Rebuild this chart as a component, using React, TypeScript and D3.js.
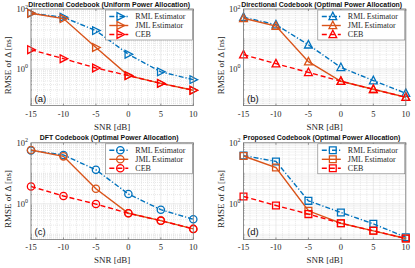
import React, { useRef, useEffect } from 'react';
import * as d3 from 'd3';

const snr = [-15, -10, -5, 0, 5, 10];

const rmlA = [72, 53, 19, 3.1, 0.8, 0.44];
const jmlA = [72, 48, 5.2, 0.6, 0.33, 0.195];
const cebA = [4.4, 2.2, 1.08, 0.6, 0.33, 0.195];

const rmlB = [53, 30, 6.4, 1.13, 0.41, 0.155];
const jmlB = [49, 27, 1.75, 0.39, 0.21, 0.114];
const cebB = [3.0, 1.5, 0.77, 0.39, 0.21, 0.114];

const rmlC = [56, 40, 13, 2.1, 0.64, 0.31];
const jmlC = [58, 36, 3.1, 0.49, 0.28, 0.15];
const cebC = [3.7, 1.8, 0.98, 0.49, 0.28, 0.15];

const rmlD = [38, 24.5, 1.25, 0.52, 0.22, 0.08];
const jmlD = [37, 15.5, 0.59, 0.23, 0.13, 0.073];
const cebD = [1.74, 0.88, 0.46, 0.23, 0.13, 0.073];

const titles = [
  'Directional Codebook (Uniform Power Allocation)',
  'Directional Codebook (Optimal Power Allocation)',
  'DFT Codebook (Optimal Power Allocation)',
  'Proposed Codebook (Optimal Power Allocation)',
];
const tags = ['(a)', '(b)', '(c)', '(d)'];
const markerKinds = ['triRight', 'triUp', 'circle', 'square'];
const legendNames = ['RML Estimator', 'JML Estimator', 'CEB'];
const xTicks = [-15, -10, -5, 0, 5, 10];
const yTickExps = [0, 2];

const colors = ['#0072BD', '#D95319', '#FF0000'];
const dashes = ['5,2,1.2,2', null, '5,3'];

const serif = '"Liberation Serif", "DejaVu Serif", serif';
const sans = '"Liberation Sans", Arial, sans-serif';

function markerPath(kind: string) {
  if (kind === 'triRight') return 'M-3.3,-3.9L4.3,0L-3.3,3.9Z';
  if (kind === 'triUp') return 'M-3.9,3.2L0,-4.3L3.9,3.2Z';
  if (kind === 'square') return 'M-3.4,-3.4H3.4V3.4H-3.4Z';
  return d3.symbol(d3.symbolCircle, 42)() as string;
}

function drawPanel(g: any, p: any) {
  const { w, h, yMin, title, tag, kind, series } = p;
  const x = d3.scaleLinear().domain([-15, 10]).range([0, w]);
  const y = d3.scaleLog().domain([yMin, 100]).range([h, 0]);

  g.append('rect').attr('width', w).attr('height', h).attr('fill', '#fff');

  // minor grid
  const xMinor = d3.range(-15, 11, 1).filter(v => v % 5 !== 0);
  g.selectAll('.xm').data(xMinor).join('line')
    .attr('x1', d => x(d)).attr('x2', d => x(d)).attr('y1', 0).attr('y2', h)
    .attr('stroke', '#cfcfcf').attr('stroke-width', 0.5).attr('stroke-dasharray', '1,1');
  const yMinor: number[] = [];
  for (let k = -2; k <= 1; k++) {
    for (let m = 1; m <= 9; m++) {
      const v = m * Math.pow(10, k);
      if (v > yMin && v < 100 && v !== 1) yMinor.push(v);
    }
  }
  g.selectAll('.ym').data(yMinor).join('line')
    .attr('x1', 0).attr('x2', w).attr('y1', d => y(d)).attr('y2', d => y(d))
    .attr('stroke', '#cfcfcf').attr('stroke-width', 0.5).attr('stroke-dasharray', '1,1');

  // major grid
  g.selectAll('.xg').data(xTicks).join('line')
    .attr('x1', d => x(d)).attr('x2', d => x(d)).attr('y1', 0).attr('y2', h)
    .attr('stroke', '#dedede').attr('stroke-width', 0.6);
  g.selectAll('.yg').data(yTickExps).join('line')
    .attr('x1', 0).attr('x2', w).attr('y1', d => y(Math.pow(10, d))).attr('y2', d => y(Math.pow(10, d)))
    .attr('stroke', '#dedede').attr('stroke-width', 0.6);

  // ticks
  xTicks.forEach(t => {
    g.append('line').attr('x1', x(t)).attr('x2', x(t)).attr('y1', h).attr('y2', h - 2)
      .attr('stroke', '#555').attr('stroke-width', 0.6);
    g.append('line').attr('x1', x(t)).attr('x2', x(t)).attr('y1', 0).attr('y2', 2)
      .attr('stroke', '#555').attr('stroke-width', 0.6);
  });
  yMinor.forEach(v => {
    g.append('line').attr('x1', 0).attr('x2', 1).attr('y1', y(v)).attr('y2', y(v))
      .attr('stroke', '#555').attr('stroke-width', 0.5);
  });

  // series
  const line = d3.line<number>().x((d, i) => x(snr[i])).y(d => y(d));
  series.forEach((vals: number[], s: number) => {
    const path = g.append('path').datum(vals)
      .attr('fill', 'none').attr('stroke', colors[s]).attr('stroke-width', 1.4)
      .attr('d', line);
    if (dashes[s]) path.attr('stroke-dasharray', dashes[s]);
    g.selectAll('.mk' + s).data(vals).join('path')
      .attr('transform', (d, i) => `translate(${x(snr[i])},${y(d)})`)
      .attr('d', markerPath(kind))
      .attr('fill', 'none').attr('stroke', colors[s]).attr('stroke-width', 1.3);
  });

  // box
  g.append('rect').attr('width', w).attr('height', h).attr('fill', 'none')
    .attr('stroke', '#777').attr('stroke-width', 0.8);

  // tick labels
  g.selectAll('.xl').data(xTicks).join('text')
    .attr('x', d => x(d)).attr('y', h + 11).attr('text-anchor', 'middle')
    .attr('font-family', serif).attr('font-size', 8.5).attr('fill', '#262626')
    .text(d => String(d));
  yTickExps.forEach(e => {
    const t = g.append('text').attr('x', -3).attr('y', y(Math.pow(10, e)) + 3)
      .attr('text-anchor', 'end').attr('font-family', serif).attr('font-size', 8.5)
      .attr('fill', '#262626');
    t.append('tspan').text('10');
    t.append('tspan').attr('dy', -3.5).attr('font-size', 6).text(String(e));
  });

  g.append('text').attr('x', w / 2).attr('y', h + 24).attr('text-anchor', 'middle')
    .attr('font-family', serif).attr('font-size', 9).attr('fill', '#262626').text('SNR [dB]');
  g.append('text').attr('transform', `translate(${-20},${h / 2 + 8}) rotate(-90)`)
    .attr('text-anchor', 'middle').attr('font-family', serif).attr('font-size', 9)
    .attr('fill', '#262626').text('RMSE of Δ [ns]');

  g.append('text').attr('x', w / 2 - 3).attr('y', -2.5).attr('text-anchor', 'middle')
    .attr('font-family', sans).attr('font-weight', 'bold').attr('font-size', 6.9)
    .attr('fill', '#111').text(title);

  g.append('text').attr('x', 3.5).attr('y', h - 4).attr('font-family', sans)
    .attr('font-size', 9.5).attr('fill', '#111').text(tag);

  // legend
  const lw = 87;
  const lg = g.append('g').attr('transform', `translate(${w - lw - 1},1)`);
  lg.append('rect').attr('width', lw).attr('height', 30).attr('fill', '#fff')
    .attr('stroke', '#777').attr('stroke-width', 0.6);
  legendNames.forEach((name, s) => {
    const cy = 6.5 + s * 9;
    const ln = lg.append('line').attr('x1', 4).attr('x2', 23).attr('y1', cy).attr('y2', cy)
      .attr('stroke', colors[s]).attr('stroke-width', 1.4);
    if (dashes[s]) ln.attr('stroke-dasharray', dashes[s]);
    lg.append('path').attr('transform', `translate(15,${cy})`).attr('d', markerPath(kind))
      .attr('fill', 'none').attr('stroke', colors[s]).attr('stroke-width', 1.3);
    lg.append('text').attr('x', 30).attr('y', cy + 2.8).attr('font-family', serif)
      .attr('font-size', 8).attr('fill', '#262626').text(name);
  });
}

const App = () => {
  const svgRef = useRef<SVGSVGElement>(null);

  useEffect(() => {
    const svg = d3.select(svgRef.current);
    svg.selectAll('*').remove();
    const seriesSets = [
      [rmlA, jmlA, cebA],
      [rmlB, jmlB, cebB],
      [rmlC, jmlC, cebC],
      [rmlD, jmlD, cebD],
    ];
    const pos = [
      { left: 31, top: 9, yMin: 0.06 },
      { left: 243.5, top: 9, yMin: 0.06 },
      { left: 31, top: 142.8, yMin: 0.068 },
      { left: 243.5, top: 142.8, yMin: 0.068 },
    ];
    pos.forEach((p, i) => {
      const g = svg.append('g').attr('transform', `translate(${p.left},${p.top})`);
      drawPanel(g, {
        w: 162.3, h: 96.6, yMin: p.yMin, title: titles[i], tag: tags[i],
        kind: markerKinds[i], series: seriesSets[i],
      });
    });
  }, []);

  return (
    <svg ref={svgRef} width={415} height={268}
      style={{ position: 'absolute', left: 0, top: 0, background: '#fff' }} />
  );
};

export default App;
